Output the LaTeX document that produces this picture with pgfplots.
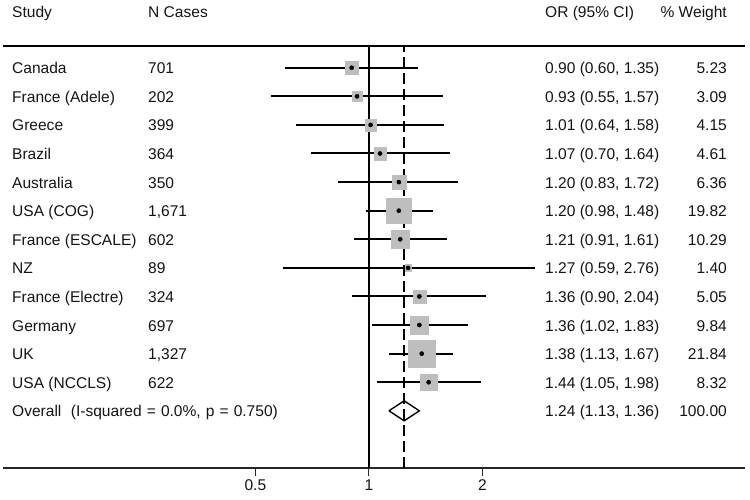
\documentclass[border=0pt]{standalone}
\usepackage{pgfplots}
\pgfplotsset{compat=1.18}
\usepackage{pgfplotstable}
\usepackage{fontspec}
\setmainfont{Liberation Sans}
\definecolor{boxgray}{RGB}{190,190,190}
\definecolor{txt}{RGB}{20,20,20}
\pgfplotstableread{
y or lo hi w
13 0.90 0.60 1.35 5.23
12 0.93 0.55 1.57 3.09
11 1.01 0.64 1.58 4.15
10 1.07 0.70 1.64 4.61
9 1.20 0.83 1.72 6.36
8 1.20 0.98 1.48 19.82
7 1.21 0.91 1.61 10.29
6 1.27 0.59 2.76 1.40
5 1.36 0.90 2.04 5.05
4 1.36 1.02 1.83 9.84
3 1.38 1.13 1.67 21.84
2 1.44 1.05 1.98 8.32
}\studies
\newcommand\fs{\fontsize{15.6}{18}\selectfont}
\newcommand\row[5]{%
  \pgfmathsetmacro\yy{394.3-28.6*#1}%
  \node[anchor=base west,inner sep=0pt,font=\fs,text=txt] at (9bp,\yy bp) {#2};
  \node[anchor=base west,inner sep=0pt,font=\fs,text=txt] at (145bp,\yy bp) {#3};
  \node[anchor=base west,inner sep=0pt,font=\fs,text=txt] at (542bp,\yy bp) {#4};
  \node[anchor=base east,inner sep=0pt,font=\fs,text=txt] at (724bp,\yy bp) {#5};
}
\newcommand\sq[3]{\addplot[boxgray, only marks, mark=square*, mark size=#3bp, mark options={draw=boxgray, fill=boxgray, line width=0.2bp}] coordinates {(#1,#2)};}
\begin{document}
\begin{tikzpicture}
\useasboundingbox (-3bp,-32bp) rectangle (747bp,468bp);
\begin{axis}[
  scale only axis, width=742bp, height=422bp,
  xmode=log, xmin=0.1071, xmax=9.93, ymin=-1, ymax=13.76,
  axis x line*=bottom, axis y line=none,
  x axis line style={line width=1.2bp, black!85, -},
  xtick={0.5,1,2}, xticklabels={0.5,1,2},
  xminorticks=false,
  tick align=outside, major tick length=8bp,
  tick style={line width=1bp, black!85},
  /pgf/number format/assume math mode=true,
  xticklabel style={font=\fs, text=txt},
  clip=false,
]
% reference lines
\addplot[black, line width=1.3bp] coordinates {(1,-1) (1,13.76)};
\addplot[black, line width=2bp, dash pattern=on 11bp off 5bp] coordinates {(1.24,-1) (1.24,13.76)};
% weight squares (half side = 2.85*sqrt(weight))
\sq{0.90}{13}{6.52}
\sq{0.93}{12}{5.01}
\sq{1.01}{11}{5.81}
\sq{1.07}{10}{6.12}
\sq{1.20}{9}{7.19}
\sq{1.20}{8}{12.69}
\sq{1.21}{7}{9.14}
\sq{1.27}{6}{3.37}
\sq{1.36}{5}{6.40}
\sq{1.36}{4}{8.94}
\sq{1.38}{3}{13.32}
\sq{1.44}{2}{8.22}
% confidence intervals
\addplot[black, line width=2bp, unbounded coords=jump] coordinates {
(0.60,13) (1.35,13) (nan,nan)
(0.55,12) (1.57,12) (nan,nan)
(0.64,11) (1.58,11) (nan,nan)
(0.70,10) (1.64,10) (nan,nan)
(0.83,9) (1.72,9) (nan,nan)
(0.98,8) (1.48,8) (nan,nan)
(0.91,7) (1.61,7) (nan,nan)
(0.59,6) (2.76,6) (nan,nan)
(0.90,5) (2.04,5) (nan,nan)
(1.02,4) (1.83,4) (nan,nan)
(1.13,3) (1.67,3) (nan,nan)
(1.05,2) (1.98,2)
};
% point estimates
\addplot[only marks, mark=*, mark size=2.1bp, black] table[x=or, y=y] {\studies};
% overall diamond
\addplot[black, line width=1.4bp] coordinates {(1.13,1) (1.24,1.35) (1.36,1) (1.24,0.65) (1.13,1)};
\draw[line width=1.4bp, black] (rel axis cs:0,1) -- (rel axis cs:1,1);
\end{axis}
% headers
\node[anchor=base west,inner sep=0pt,font=\fs,text=txt] at (9bp,450.5bp) {Study};
\node[anchor=base west,inner sep=0pt,font=\fs,text=txt] at (145bp,450.5bp) {N Cases};
\node[anchor=base west,inner sep=0pt,font=\fs,text=txt] at (542bp,450.5bp) {OR (95\% CI)};
\node[anchor=base east,inner sep=0pt,font=\fs,text=txt] at (724bp,450.5bp) {\% Weight};
\row{0}{Canada}{701}{0.90 (0.60, 1.35)}{5.23}
\row{1}{France (Adele)}{202}{0.93 (0.55, 1.57)}{3.09}
\row{2}{Greece}{399}{1.01 (0.64, 1.58)}{4.15}
\row{3}{Brazil}{364}{1.07 (0.70, 1.64)}{4.61}
\row{4}{Australia}{350}{1.20 (0.83, 1.72)}{6.36}
\row{5}{USA (COG)}{1,671}{1.20 (0.98, 1.48)}{19.82}
\row{6}{France (ESCALE)}{602}{1.21 (0.91, 1.61)}{10.29}
\row{7}{NZ}{89}{1.27 (0.59, 2.76)}{1.40}
\row{8}{France (Electre)}{324}{1.36 (0.90, 2.04)}{5.05}
\row{9}{Germany}{697}{1.36 (1.02, 1.83)}{9.84}
\row{10}{UK}{1,327}{1.38 (1.13, 1.67)}{21.84}
\row{11}{USA (NCCLS)}{622}{1.44 (1.05, 1.98)}{8.32}
\row{12}{{\spaceskip=5.1bp\relax Overall\hspace{9.5bp}(I-squared = 0.0\%, p = 0.750)}}{}{1.24 (1.13, 1.36)}{100.00}
\end{tikzpicture}
\end{document}
